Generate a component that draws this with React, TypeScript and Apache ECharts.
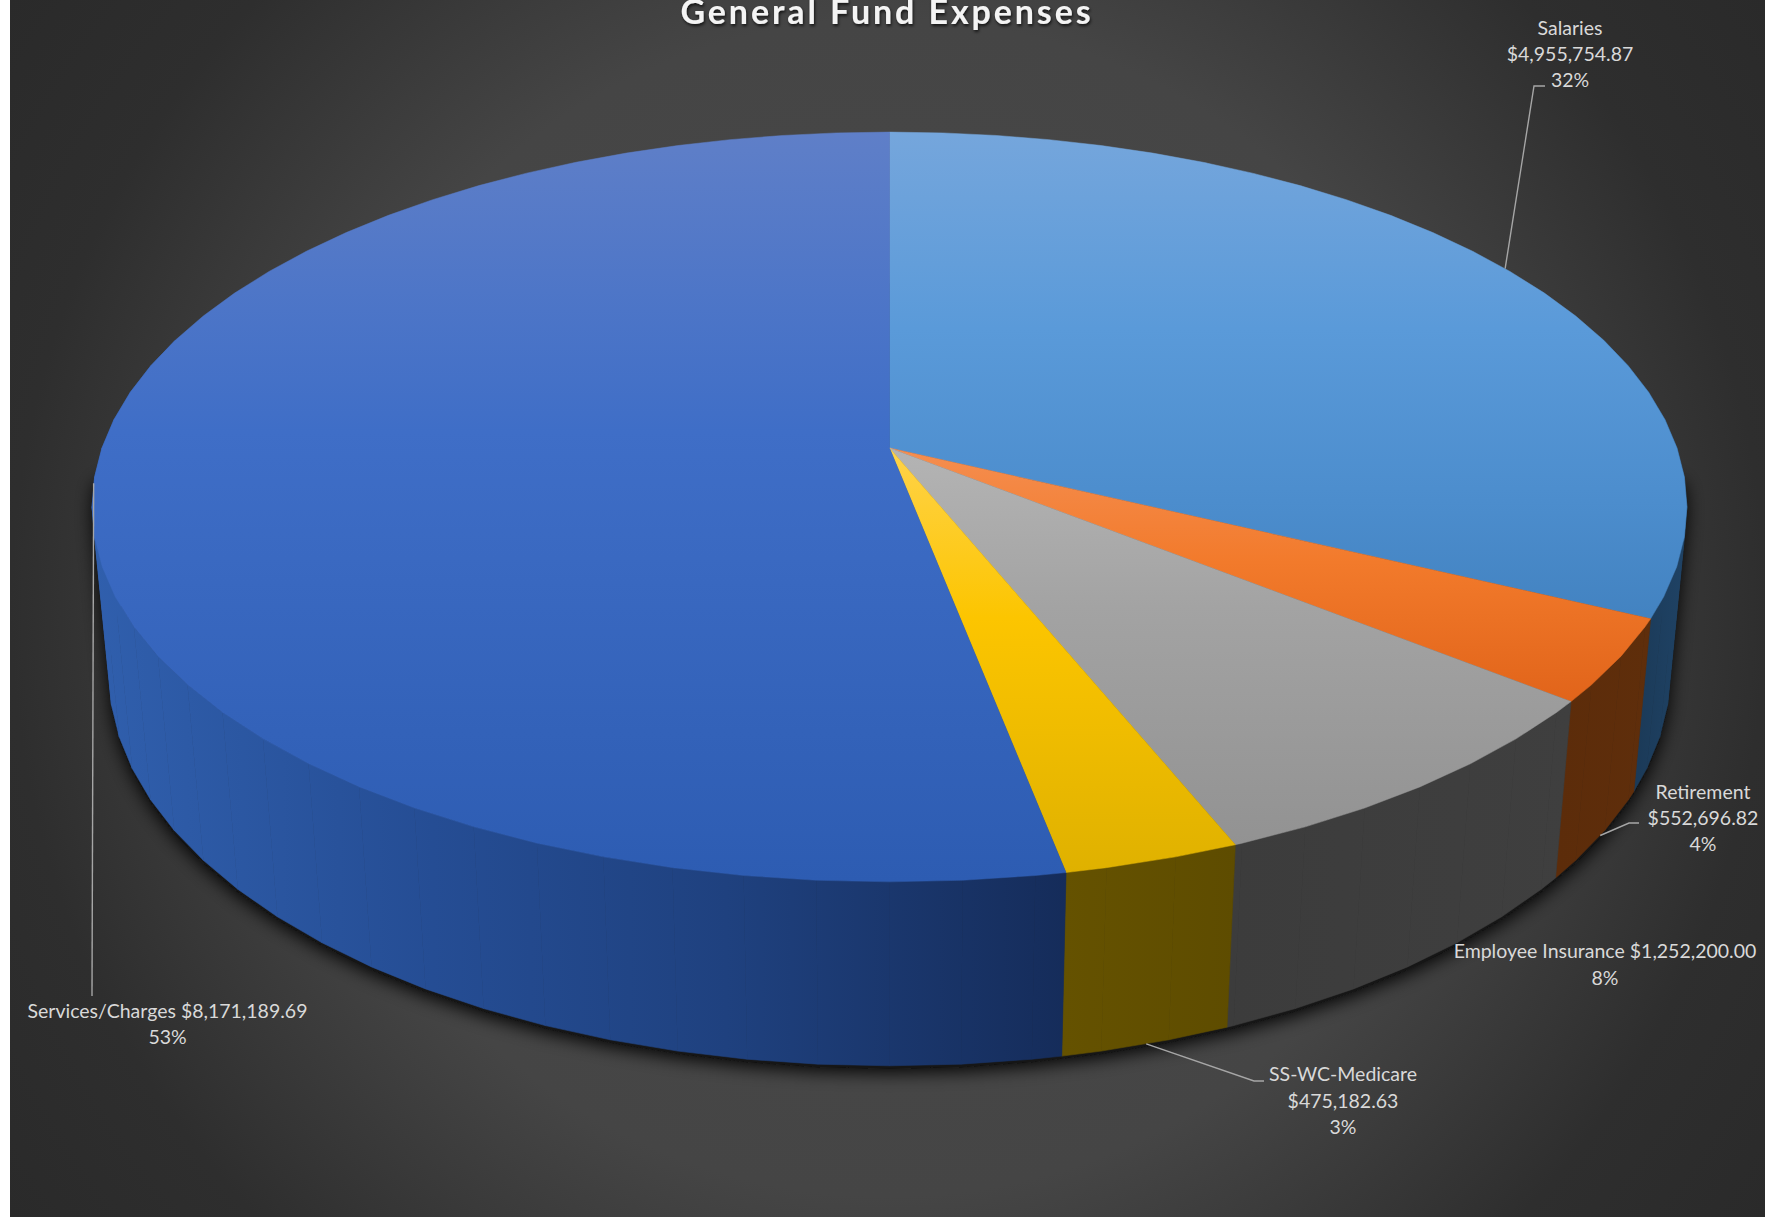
import React, { useEffect, useRef } from "react";
import * as echarts from "echarts";

const categories = ["Salaries", "Retirement", "Employee Insurance", "SS-WC-Medicare", "Services/Charges"];
const amounts = [4955754.87, 552696.82, 1252200.0, 475182.63, 8171189.69];
const amountLabels = ["$4,955,754.87", "$552,696.82", "$1,252,200.00", "$475,182.63", "$8,171,189.69"];
const percentLabels = ["32%", "4%", "8%", "3%", "53%"];

// Perspective model of the tilted disc
const cx = 889.5;
const cy = 448;
const radiusX = 787.5;
const radiusY = 365.6;
const tilt = 0.1573;
const thickness = 168;
const depthShrink = 0.021;
const facetStep = 4.5;

const total = amounts.reduce((a, b) => a + b, 0);

function project(deg: number, bottom: boolean): number[] {
  const t = (deg * Math.PI) / 180;
  const X = Math.sin(t);
  const Y = Math.cos(t);
  const w = 1 + tilt * Y + (bottom ? depthShrink : 0);
  return [cx + (radiusX * X) / w, cy + (-radiusY * Y + (bottom ? thickness : 0)) / w];
}

function sliceRange(i: number): number[] {
  let before = 0;
  for (let k = 0; k < i; k++) before += amounts[k];
  return [(before / total) * 360, ((before + amounts[i]) / total) * 360];
}

function arcAngles(a: number, b: number): number[] {
  const out = [a];
  let d = Math.ceil(a / facetStep + 1e-6) * facetStep;
  while (d < b - 1e-6) {
    out.push(d);
    d += facetStep;
  }
  out.push(b);
  return out;
}

// Outline of the solid's lower part, used for the soft shadow underneath it
function convexHull(pts: number[][]): number[][] {
  const sorted = pts.slice().sort((p, q) => p[0] - q[0] || p[1] - q[1]);
  const cross = (o: number[], a: number[], b: number[]) =>
    (a[0] - o[0]) * (b[1] - o[1]) - (a[1] - o[1]) * (b[0] - o[0]);
  const walk = (list: number[][]) => {
    const h: number[][] = [];
    for (const p of list) {
      while (h.length >= 2 && cross(h[h.length - 2], h[h.length - 1], p) <= 0) h.pop();
      h.push(p);
    }
    h.pop();
    return h;
  };
  return [...walk(sorted), ...walk(sorted.slice().reverse())];
}

function vGrad(y0: number, y1: number, stops: [number, string][]) {
  return new echarts.graphic.LinearGradient(
    0, y0, 0, y1,
    stops.map(([offset, color]) => ({ offset, color })),
    true
  );
}
function hGrad(x0: number, x1: number, stops: [number, string][]) {
  return new echarts.graphic.LinearGradient(
    x0, 0, x1, 0,
    stops.map(([offset, color]) => ({ offset, color })),
    true
  );
}

const topFills = [
  vGrad(132, 625, [[0, "#75a6dc"], [0.4, "#5a9ad9"], [0.75, "#4c8dcd"], [1, "#4282c0"]]),
  vGrad(448, 702, [[0, "#f58e50"], [0.45, "#f27a2b"], [1, "#e1641a"]]),
  vGrad(448, 846, [[0, "#b4b4b4"], [0.4, "#a3a3a3"], [1, "#929292"]]),
  vGrad(448, 873, [[0, "#ffd34a"], [0.4, "#fcc500"], [1, "#dfb100"]]),
  vGrad(132, 882, [[0, "#5f7fc8"], [0.4, "#3f6ec7"], [1, "#2d5cb2"]]),
];
const sideFills = [
  hGrad(1636, 1682, [[0, "#1b3a58"], [1, "#1f4264"]]),
  hGrad(1558, 1652, [[0, "#5c2c0a"], [1, "#5f2e0b"]]),
  hGrad(1229, 1574, [[0, "#3c3c3c"], [1, "#3f3f3f"]]),
  hGrad(1063, 1237, [[0, "#655200"], [1, "#5e4c00"]]),
  hGrad(92, 1068, [[0, "#305fad"], [0.35, "#254d94"], [0.65, "#1f417f"], [1, "#152c5a"]]),
];

// Elbow and text block for each callout; the leader's start comes from the slice itself.
const calloutLayout = [
  { elbow: [[1534, 86], [1545, 86]], at: [1570, 53.5], onBottom: false, leader: true, lines: 3 },
  { elbow: [[1629, 823], [1639, 823]], at: [1703, 817.5], onBottom: true, leader: true, lines: 3 },
  { elbow: [], at: [1605, 964], onBottom: true, leader: false, lines: 2 },
  { elbow: [[1254, 1081], [1264, 1081]], at: [1343, 1100], onBottom: true, leader: true, lines: 3 },
  { elbow: [[92, 996]], at: [167.5, 1023.5], onBottom: false, leader: true, lines: 2 },
];

const renderShadow = () => {
  const angles = arcAngles(0, 360);
  const points = convexHull([
    ...angles.filter((d) => Math.cos((d * Math.PI) / 180) < -0.05).map((d) => project(d, false)),
    ...angles.map((d) => project(d, true)),
  ]).map(([x, y]) => [x, y + 3]);
  return {
    type: "polygon",
    shape: { points },
    style: { fill: "#141414", shadowBlur: 18, shadowColor: "rgba(0,0,0,0.95)", shadowOffsetY: 4 },
  };
};

// The rim is one quad per facet, so the band stays filled where it turns past the outline.
const renderSide = (params: any) => {
  const i = params.dataIndex;
  const [a, b] = sliceRange(i);
  const angles = arcAngles(a, b);
  const children: any[] = [];
  for (let k = 0; k < angles.length - 1; k++) {
    const d0 = angles[k];
    const d1 = angles[k + 1];
    if (Math.cos((d0 * Math.PI) / 180) > 0.3 && Math.cos((d1 * Math.PI) / 180) > 0.3) continue;
    children.push({
      type: "polygon",
      shape: { points: [project(d0, false), project(d1, false), project(d1, true), project(d0, true)] },
      style: { fill: sideFills[i], stroke: sideFills[i], lineWidth: 0.6 },
    });
  }
  return { type: "group", children };
};

const renderTop = (params: any) => {
  const i = params.dataIndex;
  const [a, b] = sliceRange(i);
  const points = [[cx, cy], ...arcAngles(a, b).map((d) => project(d, false))];
  return { type: "polygon", shape: { points }, style: { fill: topFills[i], stroke: topFills[i], lineWidth: 0.5 } };
};

const renderCallout = (params: any) => {
  const i = params.dataIndex;
  const [a, b] = sliceRange(i);
  const c = calloutLayout[i];
  const children: any[] = [];
  if (c.leader) {
    children.push({
      type: "polyline",
      shape: { points: [project((a + b) / 2, c.onBottom), ...c.elbow] },
      style: { stroke: "#a6a6a6", lineWidth: 1.4, fill: "none" },
    });
  }
  const text =
    c.lines === 3
      ? `${categories[i]}\n${amountLabels[i]}\n${percentLabels[i]}`
      : `${categories[i]} ${amountLabels[i]}\n${percentLabels[i]}`;
  children.push({
    type: "text",
    style: {
      text,
      x: c.at[0],
      y: c.at[1],
      align: "center",
      verticalAlign: "middle",
      lineHeight: 26.3,
      font: "19.5px Lato, sans-serif",
      fill: "#d9d9d9",
    },
  });
  return { type: "group", children };
};

export default function App() {
  const ref = useRef<HTMLDivElement>(null);
  useEffect(() => {
    const chart = echarts.init(ref.current!, undefined, { renderer: "svg" });
    chart.setOption({
      animation: false,
      backgroundColor: "#ffffff",
      title: {
        text: "General Fund Expenses",
        left: 887,
        top: -7,
        textAlign: "center",
        padding: 0,
        textStyle: {
          fontFamily: "Lato, sans-serif",
          fontWeight: "bold",
          fontSize: 34,
          color: "#f4f4f4",
          textShadowColor: "rgba(0,0,0,0.7)",
          textShadowBlur: 3,
          textShadowOffsetX: 1,
          textShadowOffsetY: 2,
        },
      },
      graphic: [
        {
          type: "rect",
          z: -10,
          silent: true,
          shape: { x: 10, y: 0, width: 1755, height: 1217 },
          style: {
            fill: new echarts.graphic.RadialGradient(
              888, 608, 1070,
              [
                { offset: 0, color: "#4a4a4a" },
                { offset: 0.55, color: "#454545" },
                { offset: 0.82, color: "#2e2e2e" },
                { offset: 1, color: "#2a2a2a" },
              ],
              true
            ),
          },
        },
      ],
      series: [
        { type: "custom", coordinateSystem: "none", silent: true, z: 1, data: [total], renderItem: renderShadow },
        { type: "custom", coordinateSystem: "none", silent: true, z: 2, data: amounts, renderItem: renderSide },
        { type: "custom", coordinateSystem: "none", silent: true, z: 3, data: amounts, renderItem: renderTop },
        { type: "custom", coordinateSystem: "none", silent: true, z: 4, data: amounts, renderItem: renderCallout },
      ],
    });
    return () => chart.dispose();
  }, []);
  return (
    <>
      <style>{`.fund-pie svg text[style*="bold"] { letter-spacing: 2.9px; }`}</style>
      <div ref={ref} className="fund-pie" style={{ position: "fixed", left: 0, top: 0, width: 1776, height: 1217 }} />
    </>
  );
}
